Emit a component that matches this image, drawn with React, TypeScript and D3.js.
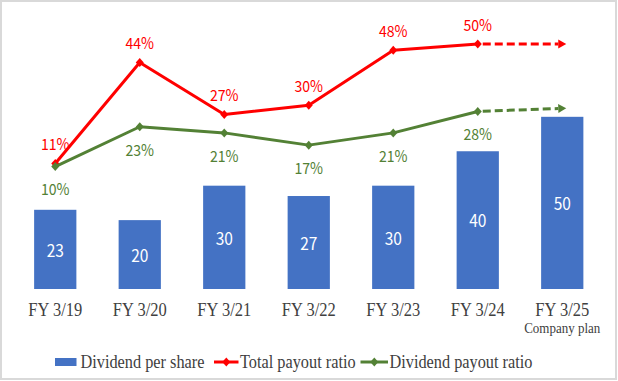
import React from "react";
import * as d3 from "d3";

const categories = ["FY 3/19", "FY 3/20", "FY 3/21", "FY 3/22", "FY 3/23", "FY 3/24", "FY 3/25"];
const subLabels = ["", "", "", "", "", "", "Company plan"];
const dividendPerShare = [23, 20, 30, 27, 30, 40, 50];
const totalPayoutRatio = [11, 44, 27, 30, 48, 50];
const dividendPayoutRatio = [10, 23, 21, 17, 21, 28];
const totalPayoutPlan = 50;
const dividendPayoutPlan = 29;
const legendLabels = ["Dividend per share", "Total payout ratio", "Dividend payout ratio"];

const W = 618;
const H = 381;
const BLUE = "#4472C4";
const RED = "#FF0000";
const GREEN = "#538135";
const TEXT = "#404040";
const SERIF = "'Liberation Serif', 'Times New Roman', serif";
const SANS = "'Noto Sans CJK JP', 'Noto Sans', sans-serif";

const plotTop = 13.5;
const plotBottom = 289;

const x = d3.scaleBand<string>().domain(categories).range([13, 604.5]).paddingInner(0.5).paddingOuter(0.25);
const yBar = d3.scaleLinear().domain([0, 80]).range([plotBottom, plotTop]);
const yPct = d3.scaleLinear().domain([-30, 60]).range([plotBottom, plotTop]);

const cx = (c: string) => (x(c) as number) + x.bandwidth() / 2;

function diamond(px: number, py: number, r = 4) {
  return `M${px},${py - r - 0.5}L${px + r},${py}L${px},${py + r + 0.5}L${px - r},${py}Z`;
}

function Arrow({ x0, y0, x1, y1, color }: { x0: number; y0: number; x1: number; y1: number; color: string }) {
  const ang = Math.atan2(y1 - y0, x1 - x0);
  const len = 8;
  const half = 4.5;
  const tipX = x1 + 4 * Math.cos(ang);
  const tipY = y1 + 4 * Math.sin(ang);
  const bx = tipX - len * Math.cos(ang);
  const by = tipY - len * Math.sin(ang);
  const px = -Math.sin(ang);
  const py = Math.cos(ang);
  return (
    <g>
      <line x1={x0 + 5} y1={y0 + 5 * Math.sin(ang)} x2={bx} y2={by} stroke={color} strokeWidth={3} strokeDasharray="8,4" />
      <path d={`M${tipX},${tipY}L${bx + px * half},${by + py * half}L${bx - px * half},${by - py * half}Z`} fill={color} />
    </g>
  );
}

export default function App() {
  const line = d3
    .line<number>()
    .x((_, i) => cx(categories[i]))
    .y((d) => yPct(d));

  const last = totalPayoutRatio.length - 1;
  const planCat = categories[categories.length - 1];

  const serifText = (key: string, tx: number, ty: number, size: number, str: string, anchor = "middle", sy = 1.15) => (
    <text
      key={key}
      transform={`translate(${tx},${ty}) scale(1,${sy})`}
      textAnchor={anchor}
      fontFamily={SERIF}
      fontSize={size}
      fill={TEXT}
    >
      {str}
    </text>
  );

  const pctText = (key: string, tx: number, ty: number, str: string, color: string) => (
    <text
      key={key}
      transform={`translate(${tx},${ty}) scale(0.97,1.07)`}
      textAnchor="middle"
      dominantBaseline="central"
      fontFamily={SANS}
      fontSize={14.5}
      fill={color}
    >
      {str}
    </text>
  );

  return (
    <svg width={W} height={H} style={{ position: "absolute", left: 0, top: 0, background: "#fff" }}>
      <rect x={1} y={1} width={615} height={378} fill="#fff" stroke="#D9D9D9" strokeWidth={2} />

      {dividendPerShare.map((v, i) => (
        <rect
          key={"b" + i}
          x={x(categories[i])}
          y={yBar(v)}
          width={x.bandwidth()}
          height={yBar(0) - yBar(v)}
          fill={BLUE}
        />
      ))}
      {dividendPerShare.map((v, i) => (
        <text
          key={"bl" + i}
          transform={`translate(${cx(categories[i])},${(yBar(v) + yBar(0)) / 2}) scale(0.97,1.07)`}
          textAnchor="middle"
          dominantBaseline="central"
          fontFamily={SANS}
          fontSize={16}
          fill="#fff"
        >
          {v}
        </text>
      ))}

      <path d={line(totalPayoutRatio) || ""} fill="none" stroke={RED} strokeWidth={3} strokeLinejoin="round" />
      <Arrow
        x0={cx(categories[last])}
        y0={yPct(totalPayoutRatio[last])}
        x1={cx(planCat)}
        y1={yPct(totalPayoutPlan)}
        color={RED}
      />
      {totalPayoutRatio.map((v, i) => (
        <path key={"rm" + i} d={diamond(cx(categories[i]), yPct(v))} fill={RED} />
      ))}

      <path d={line(dividendPayoutRatio) || ""} fill="none" stroke={GREEN} strokeWidth={3} strokeLinejoin="round" />
      <Arrow
        x0={cx(categories[last])}
        y0={yPct(dividendPayoutRatio[last])}
        x1={cx(planCat)}
        y1={yPct(dividendPayoutPlan)}
        color={GREEN}
      />
      {dividendPayoutRatio.map((v, i) => (
        <path key={"gm" + i} d={diamond(cx(categories[i]), yPct(v))} fill={GREEN} />
      ))}

      {totalPayoutRatio.map((v, i) => pctText("rl" + i, cx(categories[i]), yPct(v) - 20, `${v}%`, RED))}
      {dividendPayoutRatio.map((v, i) => pctText("gl" + i, cx(categories[i]), yPct(v) + 22, `${v}%`, GREEN))}

      {categories.map((c, i) => serifText("xl" + i, cx(c), 316, 16.5, c))}
      {subLabels.map((s, i) => (s ? serifText("sl" + i, cx(categories[i]), 333, 13, s) : null))}

      <g>
        <rect x={55} y={358} width={21.5} height={8} fill={BLUE} />
        {serifText("lg0", 80.5, 368, 16.3, legendLabels[0], "start", 1.14)}
        <line x1={214} y1={362} x2={238.5} y2={362} stroke={RED} strokeWidth={3} />
        <path d={diamond(226.3, 362)} fill={RED} />
        {serifText("lg1", 240, 368, 16.3, legendLabels[1], "start", 1.14)}
        <line x1={360.5} y1={362} x2={388} y2={362} stroke={GREEN} strokeWidth={3} />
        <path d={diamond(374.3, 362)} fill={GREEN} />
        {serifText("lg2", 389.5, 368, 16.3, legendLabels[2], "start", 1.14)}
      </g>
    </svg>
  );
}
